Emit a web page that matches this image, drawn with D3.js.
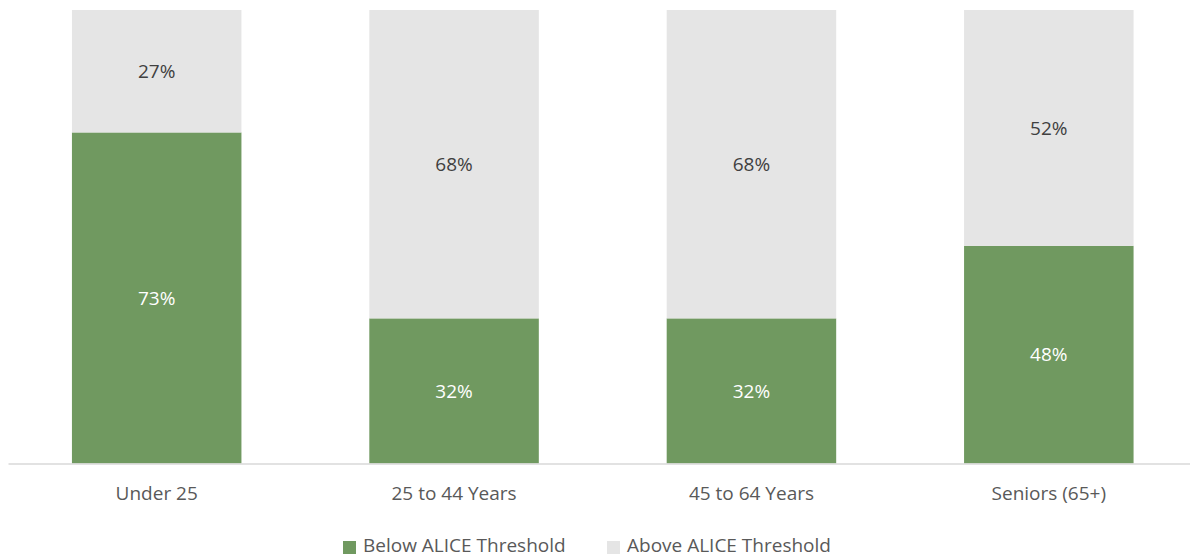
<!DOCTYPE html>
<html>
<head>
<meta charset="utf-8">
<script src="https://cdn.jsdelivr.net/npm/d3@7"></script>
<style>
  body { margin: 0; background: #fff; }
  text { font-family: "Open Sans", sans-serif; }
</style>
</head>
<body>
<script>
const categories = ["Under 25", "25 to 44 Years", "45 to 64 Years", "Seniors (65+)"];
const below = [73, 32, 32, 48];
const above = [27, 68, 68, 52];
const seriesNames = ["Below ALICE Threshold", "Above ALICE Threshold"];
const seriesColors = ["#709960", "#e5e5e5"];
const labelColors = ["#ffffff", "#404040"];

const width = 1190, height = 559;
const fontSize = 19;
const svg = d3.select("body").append("svg")
  .attr("width", width)
  .attr("height", height);

const x = d3.scaleBand()
  .domain(categories)
  .range([8, 1197.5])
  .paddingInner(0.43)
  .paddingOuter(0.215);

const y = d3.scaleLinear()
  .domain([0, 100])
  .range([463.5, 10]);

const rows = categories.map((c, i) => ({cat: c, below: below[i], above: above[i]}));
const stack = d3.stack().keys(["below", "above"])(rows);

stack.forEach((layer, k) => {
  const g = svg.append("g");
  g.selectAll("rect")
    .data(layer)
    .enter().append("rect")
    .attr("x", d => x(d.data.cat))
    .attr("width", x.bandwidth())
    .attr("y", d => y(d[1]))
    .attr("height", d => y(d[0]) - y(d[1]))
    .attr("fill", seriesColors[k]);
  g.selectAll("text")
    .data(layer)
    .enter().append("text")
    .attr("x", d => x(d.data.cat) + x.bandwidth() / 2)
    .attr("y", d => (y(d[0]) + y(d[1])) / 2)
    .attr("dy", "0.35em")
    .attr("text-anchor", "middle")
    .attr("font-size", fontSize)
    .attr("fill", labelColors[k])
    .text(d => (d[1] - d[0]) + "%");
});

// x axis
const axis = svg.append("g")
  .attr("transform", "translate(0," + y(0) + ")")
  .call(d3.axisBottom(x).tickSize(0).tickPadding(23));
axis.select(".domain").attr("stroke", "#d9d9d9").attr("stroke-width", 1.5);
axis.selectAll("text")
  .attr("font-size", fontSize)
  .attr("fill", "#595959")
  .style("font-family", "'Open Sans', sans-serif");

// legend
const legendX = [343, 607];
const legend = svg.append("g");
seriesNames.forEach((name, i) => {
  legend.append("rect")
    .attr("x", legendX[i])
    .attr("y", 541)
    .attr("width", 13)
    .attr("height", 13)
    .attr("fill", seriesColors[i]);
  legend.append("text")
    .attr("x", legendX[i] + 20)
    .attr("y", 552)
    .attr("font-size", fontSize)
    .attr("fill", "#595959")
    .text(name);
});
</script>
</body>
</html>
